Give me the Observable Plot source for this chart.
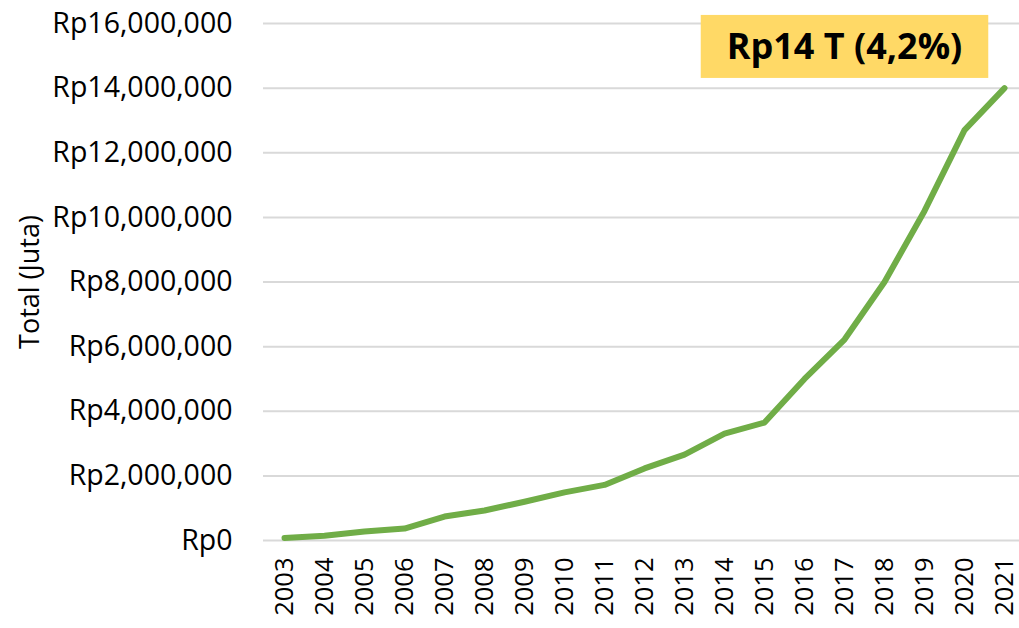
<!DOCTYPE html>
<html>
<head>
<meta charset="utf-8">
<script src="https://cdn.jsdelivr.net/npm/d3@7"></script>
<script src="https://cdn.jsdelivr.net/npm/@observablehq/plot@0.6"></script>
<style>
  html, body { margin: 0; padding: 0; background: #fff; }
  #chart { position: relative; width: 1019px; height: 628px; }
</style>
</head>
<body>
<div id="chart"></div>
<script>
const years = ["2003","2004","2005","2006","2007","2008","2009","2010","2011","2012","2013","2014","2015","2016","2017","2018","2019","2020","2021"];
const totals = [80000, 150000, 280000, 370000, 740000, 930000, 1200000, 1490000, 1720000, 2230000, 2660000, 3310000, 3650000, 5000000, 6220000, 8000000, 10200000, 12700000, 14000000];
const yTicks = [0, 2000000, 4000000, 6000000, 8000000, 10000000, 12000000, 14000000, 16000000];
const yLabel = "Total (Juta)";
const annotation = "Rp14 T (4,2%)";
const annotationYear = "2017";
const annotationValue = 15260000;

const data = years.map((y, i) => ({year: y, total: totals[i]}));
const fmt = v => v === 0 ? "Rp0" : "Rp" + d3.format(",")(v);
const font = "'Open Sans', sans-serif";

const chart = Plot.plot({
  width: 1019,
  height: 628,
  marginLeft: 263,
  marginRight: -5,
  marginTop: 23,
  marginBottom: 88,
  style: {fontFamily: font, fontSize: "28px", color: "#000", background: "#fff"},
  x: {type: "point", domain: years, padding: 0.5},
  y: {domain: [0, 16000000]},
  marks: [
    Plot.ruleY(yTicks, {stroke: "#d9d9d9", strokeWidth: 2}),
    Plot.axisY({ticks: yTicks, tickFormat: fmt, tickSize: 0, tickPadding: 31, label: null, fontSize: 28.5}),
    Plot.axisX({tickSize: 0, tickRotate: -90, tickPadding: 17, label: null, fontSize: 25.5}),
    Plot.line(data, {x: "year", y: "total", stroke: "#70AD47", strokeWidth: 6, strokeLinecap: "round", strokeLinejoin: "round"}),
    Plot.text([yLabel], {frameAnchor: "left", textAnchor: "middle", dx: -233, rotate: -90, fontSize: 27, fill: "#000"}),
    Plot.text([annotation], {x: () => annotationYear, y: () => annotationValue, fontSize: 36, fontWeight: "bold", fill: "#000", className: "anno"})
  ]
});
document.getElementById("chart").appendChild(chart);

// yellow box behind annotation text
const txt = chart.querySelector(".anno text");
if (txt) {
  const bb = txt.getBBox();
  const padX = 26, padY = 10;
  const rect = document.createElementNS("http://www.w3.org/2000/svg", "rect");
  rect.setAttribute("x", bb.x - padX);
  rect.setAttribute("y", bb.y - padY + 4);
  rect.setAttribute("width", bb.width + 2 * padX);
  rect.setAttribute("height", bb.height + 2 * padY - 6);
  rect.setAttribute("fill", "#FFD966");
  if (txt.getAttribute("transform")) rect.setAttribute("transform", txt.getAttribute("transform"));
  const g = txt.parentNode;
  g.insertBefore(rect, txt);
}
</script>
</body>
</html>
